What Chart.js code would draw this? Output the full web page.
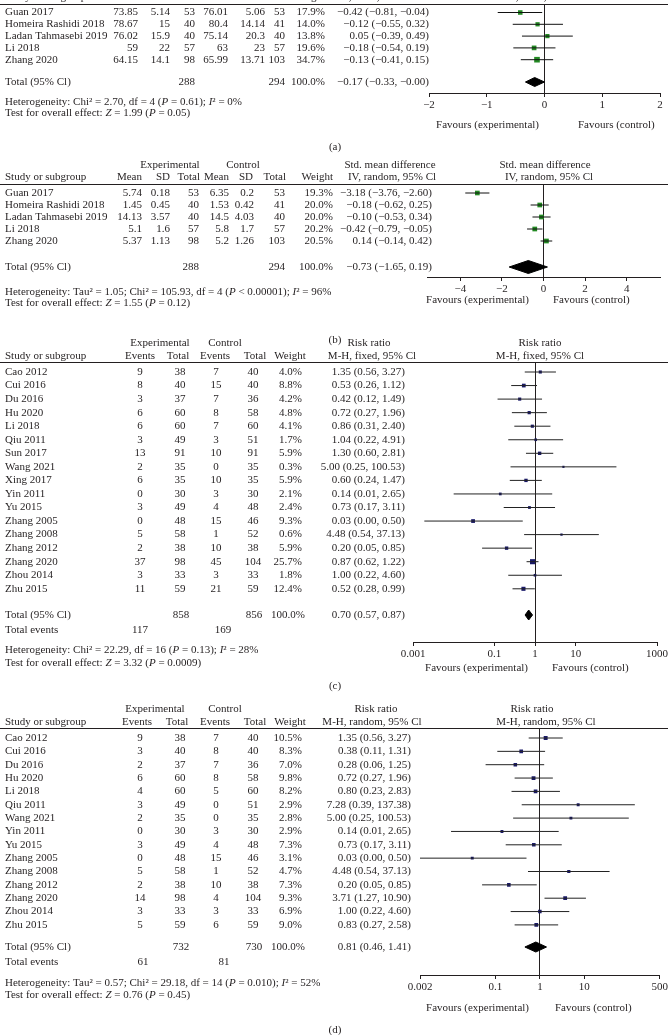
<!DOCTYPE html>
<html>
<head>
<meta charset="utf-8">
<script src="https://cdn.jsdelivr.net/npm/chart.js@4.4.0/dist/chart.umd.min.js"></script>
<style>
  body { margin: 0; background: #fff; }
  #wrap { position: relative; width: 670px; height: 1035px; overflow: hidden; background: #fff; }
  canvas { position: absolute; left: 0; top: 0; }
</style>
</head>
<body>
<div id="wrap">
  <canvas id="pa" width="670" height="1035"></canvas>
  <canvas id="pb" width="670" height="1035"></canvas>
  <canvas id="pc" width="670" height="1035"></canvas>
  <canvas id="pd" width="670" height="1035"></canvas>
</div>
<script>
// ---------- (a) std. mean difference, fixed
const studiesA = ['Guan 2017', 'Homeira Rashidi 2018', 'Ladan Tahmasebi 2019', 'Li 2018', 'Zhang 2020']
const expMeanA = [73.85, 78.67, 76.02, 59, 64.15]
const expSdA = [5.14, 15, 15.9, 22, 14.1]
const expNA = [53, 40, 40, 57, 98]
const ctlMeanA = [76.01, 80.4, 75.14, 63, 65.99]
const ctlSdA = [5.06, 14.14, 20.3, 23, 13.71]
const ctlNA = [53, 41, 40, 57, 103]
const weightA = [17.9, 14.0, 13.8, 19.6, 34.7]
const smdA = [-0.42, -0.12, 0.05, -0.18, -0.13]
const loA = [-0.81, -0.55, -0.39, -0.54, -0.41]
const hiA = [-0.04, 0.32, 0.49, 0.19, 0.15]
const totalA = [-0.17, -0.33, -0]
const ticksA = [-2, -1, 0, 1, 2]
const tickLabelsA = ['−2', '−1', '0', '1', '2']

// ---------- (b) std. mean difference, random
const studiesB = ['Guan 2017', 'Homeira Rashidi 2018', 'Ladan Tahmasebi 2019', 'Li 2018', 'Zhang 2020']
const expMeanB = [5.74, 1.45, 14.13, 5.1, 5.37]
const expSdB = [0.18, 0.45, 3.57, 1.6, 1.13]
const expNB = [53, 40, 40, 57, 98]
const ctlMeanB = [6.35, 1.53, 14.5, 5.8, 5.2]
const ctlSdB = [0.2, 0.42, 4.03, 1.7, 1.26]
const ctlNB = [53, 41, 40, 57, 103]
const weightB = [19.3, 20.0, 20.0, 20.2, 20.5]
const smdB = [-3.18, -0.18, -0.10, -0.42, 0.14]
const loB = [-3.76, -0.62, -0.53, -0.79, -0.14]
const hiB = [-2.60, 0.25, 0.34, -0.05, 0.42]
const totalB = [-0.73, -1.65, 0.19]
const ticksB = [-4, -2, 0, 2, 4]
const tickLabelsB = ['−4', '−2', '0', '2', '4']

// ---------- (c) risk ratio, fixed
const studiesC = ['Cao 2012', 'Cui 2016', 'Du 2016', 'Hu 2020', 'Li 2018', 'Qiu 2011', 'Sun 2017', 'Wang 2021', 'Xing 2017',
  'Yin 2011', 'Yu 2015', 'Zhang 2005', 'Zhang 2008', 'Zhang 2012', 'Zhang 2020', 'Zhou 2014', 'Zhu 2015']
const expEvC = [9, 8, 3, 6, 6, 3, 13, 2, 6, 0, 3, 0, 5, 2, 37, 3, 11]
const expNC = [38, 40, 37, 60, 60, 49, 91, 35, 35, 30, 49, 48, 58, 38, 98, 33, 59]
const ctlEvC = [7, 15, 7, 8, 7, 3, 10, 0, 10, 3, 4, 15, 1, 10, 45, 3, 21]
const ctlNC = [40, 40, 36, 58, 60, 51, 91, 35, 35, 30, 48, 46, 52, 38, 104, 33, 59]
const weightC = [4.0, 8.8, 4.2, 4.8, 4.1, 1.7, 5.9, 0.3, 5.9, 2.1, 2.4, 9.3, 0.6, 5.9, 25.7, 1.8, 12.4]
const rrC = [1.35, 0.53, 0.42, 0.72, 0.86, 1.04, 1.30, 5.00, 0.60, 0.14, 0.73, 0.03, 4.48, 0.20, 0.87, 1.00, 0.52]
const loC = [0.56, 0.26, 0.12, 0.27, 0.31, 0.22, 0.60, 0.25, 0.24, 0.01, 0.17, 0.0019, 0.54, 0.05, 0.62, 0.22, 0.28]
const hiC = [3.27, 1.12, 1.49, 1.96, 2.40, 4.91, 2.81, 100.53, 1.47, 2.65, 3.11, 0.50, 37.13, 0.85, 1.22, 4.60, 0.99]
const totalC = [0.70, 0.57, 0.87]
const ticksC = [0.001, 0.1, 1, 10, 1000]
const tickLabelsC = ['0.001', '0.1', '1', '10', '1000']

// ---------- (d) risk ratio, random
const studiesD = ['Cao 2012', 'Cui 2016', 'Du 2016', 'Hu 2020', 'Li 2018', 'Qiu 2011', 'Wang 2021', 'Yin 2011', 'Yu 2015',
  'Zhang 2005', 'Zhang 2008', 'Zhang 2012', 'Zhang 2020', 'Zhou 2014', 'Zhu 2015']
const expEvD = [9, 3, 2, 6, 4, 3, 2, 0, 3, 0, 5, 2, 14, 3, 5]
const expND = [38, 40, 37, 60, 60, 49, 35, 30, 49, 48, 58, 38, 98, 33, 59]
const ctlEvD = [7, 8, 7, 8, 5, 0, 0, 3, 4, 15, 1, 10, 4, 3, 6]
const ctlND = [40, 40, 36, 58, 60, 51, 35, 30, 48, 46, 52, 38, 104, 33, 59]
const weightD = [10.5, 8.3, 7.0, 9.8, 8.2, 2.9, 2.8, 2.9, 7.3, 3.1, 4.7, 7.3, 9.3, 6.9, 9.0]
const rrD = [1.35, 0.38, 0.28, 0.72, 0.80, 7.28, 5.00, 0.14, 0.73, 0.03, 4.48, 0.20, 3.71, 1.00, 0.83]
const loD = [0.56, 0.11, 0.06, 0.27, 0.23, 0.39, 0.25, 0.01, 0.17, 0.0019, 0.54, 0.05, 1.27, 0.22, 0.27]
const hiD = [3.27, 1.31, 1.25, 1.96, 2.83, 137.38, 100.53, 2.65, 3.11, 0.50, 37.13, 0.85, 10.90, 4.60, 2.58]
const totalD = [0.81, 0.46, 1.41]
const ticksD = [0.002, 0.1, 1, 10, 500]
const tickLabelsD = ['0.002', '0.1', '1', '10', '500']

const INK = '#231f20'
const SERIF = '"Liberation Serif", "DejaVu Serif", serif'
const FS = 11

function fmt(v) { return (v < 0 || Object.is(v, -0) ? '−' : '') + Math.abs(v).toFixed(2) }
function ci(e, l, h) { return fmt(e) + ' (' + fmt(l) + ', ' + fmt(h) + ')' }
function pct(w) { return w.toFixed(1) + '%' }
function sum(a) { return a.reduce((s, v) => s + v, 0) }
function str(a) { return a.map(v => String(v)) }

// text with *italic* parts
function rich(ctx, s, x, y) {
    ctx.textAlign = 'left'
    s.split('*').forEach((part, k) => {
        ctx.font = (k % 2 ? 'italic ' : '') + FS + 'px ' + SERIF
        ctx.fillText(part, x, y)
        x += ctx.measureText(part).width
    })
    ctx.font = FS + 'px ' + SERIF
}

function tableFor(p) {
    return {
        id: 'table',
        afterDraw(chart) {
            const ctx = chart.ctx
            const ys = chart.scales.y
            ctx.save()
            ctx.fillStyle = INK
            ctx.font = FS + 'px ' + SERIF
            ctx.textBaseline = 'middle'
            const put = (s, x, y, a) => { ctx.textAlign = a; ctx.fillText(s, x, y) }

            // headers
            p.head.forEach(h => put(h[0], h[1], h[3], h[2]))
            // rule under header
            ctx.strokeStyle = INK
            ctx.lineWidth = 1
            ctx.beginPath()
            ctx.moveTo(0, p.lineY + 0.5)
            ctx.lineTo(668, p.lineY + 0.5)
            ctx.stroke()

            // study rows
            p.names.forEach((nm, i) => {
                const y = ys.getPixelForValue(i)
                p.cols.forEach(c => put(c[2][i], c[0], y, c[1]))
            })
            // total row
            const ty = ys.getPixelForValue((p.totalY - p.row0Y) / p.rowStep)
            p.totalRow.forEach(t => put(t[0], t[1], ty, t[2]))
            if (p.events) p.events.items.forEach(t => put(t[0], t[1], p.events.y, t[2]))

            p.notes.forEach(n => rich(ctx, n[0], 5, n[1]))

            put('Favours (experimental)', p.favours[0], p.favours[2], 'right')
            put('Favours (control)', p.favours[1], p.favours[2], 'left')
            put(p.label[0], 335, p.label[1], 'center')
            ctx.restore()
        }
    }
}

function forest(id, p) {
    const W = 670, H = 1035, AX = 24
    const n = p.names.length
    const ymin = (p.lineY - p.row0Y) / p.rowStep
    const ymax = (p.axisY - p.row0Y) / p.rowStep
    const tRow = (p.totalY - p.row0Y) / p.rowStep
    const dh = p.dHalf / p.rowStep
    const te = p.total[0], tl = p.total[1], th = p.total[2]

    const datasets = []
    for (let i = 0; i < n; i++) {
        datasets.push({
            data: [{ x: p.lo[i], y: i }, { x: p.hi[i], y: i }],
            showLine: true, borderColor: p.ciColor, borderWidth: 1, pointRadius: 0
        })
    }
    // squares sized by weight
    datasets.push({
        data: p.est.map((e, i) => ({ x: e, y: i })),
        pointStyle: 'rect',
        pointRadius: p.weight.map(w => (1.8 + 0.65 * Math.sqrt(w)) / 1.414),
        pointBackgroundColor: p.sqColor, pointBorderWidth: 0
    })
    // pooled diamond
    datasets.push({
        data: [{ x: tl, y: tRow }, { x: te, y: tRow - dh }, { x: th, y: tRow }, { x: te, y: tRow + dh }, { x: tl, y: tRow }],
        showLine: true, fill: 'shape', backgroundColor: '#000', borderColor: '#000', borderWidth: 1, pointRadius: 0
    })

    return new Chart(document.getElementById(id), {
        type: 'scatter',
        data: { datasets: datasets },
        options: {
            responsive: false,
            animation: false,
            layout: { autoPadding: false, padding: { left: p.plotL, right: W - p.plotR, top: p.lineY, bottom: H - p.axisY - AX } },
            plugins: { legend: { display: false }, tooltip: { enabled: false } },
            scales: {
                x: {
                    type: p.log ? 'logarithmic' : 'linear',
                    min: p.xMin, max: p.xMax,
                    afterBuildTicks: s => { s.ticks = p.ticks.map(v => ({ value: v })) },
                    afterFit: s => { s.height = AX },
                    border: { display: true, color: INK, width: 1 },
                    grid: {
                        color: c => (c.tick && c.tick.value === p.ref) ? INK : 'rgba(0,0,0,0)',
                        tickColor: INK, tickLength: 4, lineWidth: 1
                    },
                    ticks: {
                        color: INK, padding: 2, autoSkip: false, maxRotation: 0,
                        font: { family: SERIF, size: FS },
                        callback: (v, i) => p.tickLabels[i]
                    }
                },
                y: { display: false, reverse: true, min: ymin, max: ymax }
            }
        },
        plugins: [tableFor(p)]
    })
}

// ---------- panel (a)
forest('pa', {
    names: studiesA, est: smdA, lo: loA, hi: hiA, weight: weightA, total: totalA,
    xMin: -2, xMax: 2, ref: 0, ticks: ticksA, tickLabels: tickLabelsA,
    sqColor: '#238a23', ciColor: '#111', dHalf: 4.5,
    lineY: 4, axisY: 93, plotL: 429, plotR: 660, row0Y: 12.5, rowStep: 11.8, totalY: 82,
    head: [
        ['Study or subgroup', 5, 'left', -3], ['Mean', 138, 'right', -3], ['SD', 170, 'right', -3], ['Total', 195, 'right', -3],
        ['Mean', 228, 'right', -3], ['SD', 265, 'right', -3], ['Total', 285, 'right', -3], ['Weight', 325, 'right', -3],
        ['IV, fixed, 95% Cl', 377, 'center', -3], ['IV, fixed, 95% Cl', 544, 'center', -3]
    ],
    cols: [
        [5, 'left', studiesA], [138, 'right', str(expMeanA)], [170, 'right', str(expSdA)], [195, 'right', str(expNA)],
        [228, 'right', str(ctlMeanA)], [265, 'right', str(ctlSdA)], [285, 'right', str(ctlNA)],
        [325, 'right', weightA.map(pct)], [429, 'right', smdA.map((e, i) => ci(e, loA[i], hiA[i]))]
    ],
    totalRow: [['Total (95% Cl)', 5, 'left'], [String(sum(expNA)), 195, 'right'], [String(sum(ctlNA)), 285, 'right'],
        ['100.0%', 325, 'right'], [ci(totalA[0], totalA[1], totalA[2]), 429, 'right']],
    notes: [['Heterogeneity: Chi² = 2.70, df = 4 (*P* = 0.61); *I*² = 0%', 102], ['Test for overall effect: *Z* = 1.99 (*P* = 0.05)', 113]],
    favours: [539, 578, 125],
    label: ['(a)', 147]
})

// ---------- panel (b)
forest('pb', {
    names: studiesB, est: smdB, lo: loB, hi: hiB, weight: weightB, total: totalB,
    xMin: -5.6, xMax: 5.6, ref: 0, ticks: ticksB, tickLabels: tickLabelsB,
    sqColor: '#238a23', ciColor: '#111', dHalf: 6.5,
    lineY: 184, axisY: 277, plotL: 427, plotR: 660, row0Y: 193, rowStep: 12, totalY: 267,
    head: [
        ['Experimental', 170, 'center', 165], ['Control', 243, 'center', 165],
        ['Std. mean difference', 390, 'center', 165], ['Std. mean difference', 545, 'center', 165],
        ['Study or subgroup', 5, 'left', 177], ['Mean', 142, 'right', 177], ['SD', 170, 'right', 177], ['Total', 200, 'right', 177],
        ['Mean', 229, 'right', 177], ['SD', 253, 'right', 177], ['Total', 286, 'right', 177], ['Weight', 333, 'right', 177],
        ['IV, random, 95% Cl', 392, 'center', 177], ['IV, random, 95% Cl', 549, 'center', 177]
    ],
    cols: [
        [5, 'left', studiesB], [142, 'right', str(expMeanB)], [170, 'right', str(expSdB)], [199, 'right', str(expNB)],
        [229, 'right', str(ctlMeanB)], [254, 'right', str(ctlSdB)], [285, 'right', str(ctlNB)],
        [333, 'right', weightB.map(pct)], [432, 'right', smdB.map((e, i) => ci(e, loB[i], hiB[i]))]
    ],
    totalRow: [['Total (95% Cl)', 5, 'left'], [String(sum(expNB)), 199, 'right'], [String(sum(ctlNB)), 285, 'right'],
        ['100.0%', 333, 'right'], [ci(totalB[0], totalB[1], totalB[2]), 432, 'right']],
    notes: [['Heterogeneity: Tau² = 1.05; Chi² = 105.93, df = 4 (*P* < 0.00001); *I*² = 96%', 292], ['Test for overall effect: *Z* = 1.55 (*P* = 0.12)', 303]],
    favours: [529, 553, 300],
    label: ['(b)', 340]
})

// ---------- panel (c)
forest('pc', {
    names: studiesC, est: rrC, lo: loC, hi: hiC, weight: weightC, total: totalC,
    log: true, xMin: 0.001, xMax: 1000, ref: 1, ticks: ticksC, tickLabels: tickLabelsC,
    sqColor: '#1a1a6a', ciColor: '#222', dHalf: 5,
    lineY: 362, axisY: 642, plotL: 413, plotR: 660, row0Y: 372, rowStep: 13.55, totalY: 615,
    head: [
        ['Experimental', 160, 'center', 343], ['Control', 225, 'center', 343],
        ['Risk ratio', 369, 'center', 343], ['Risk ratio', 540, 'center', 343],
        ['Study or subgroup', 5, 'left', 356], ['Events', 140, 'center', 356], ['Total', 178, 'center', 356],
        ['Events', 215, 'center', 356], ['Total', 255, 'center', 356], ['Weight', 290, 'center', 356],
        ['M-H, fixed, 95% Cl', 372, 'center', 356], ['M-H, fixed, 95% Cl', 540, 'center', 356]
    ],
    cols: [
        [5, 'left', studiesC], [140, 'center', str(expEvC)], [180, 'center', str(expNC)],
        [216, 'center', str(ctlEvC)], [253, 'center', str(ctlNC)],
        [302, 'right', weightC.map(pct)], [405, 'right', rrC.map((e, i) => ci(e, loC[i], hiC[i]))]
    ],
    totalRow: [['Total (95% Cl)', 5, 'left'], [String(sum(expNC)), 181, 'center'], [String(sum(ctlNC)), 254, 'center'],
        ['100.0%', 305, 'right'], [ci(totalC[0], totalC[1], totalC[2]), 405, 'right']],
    events: { y: 630, items: [['Total events', 5, 'left'], [String(sum(expEvC)), 140, 'center'], [String(sum(ctlEvC)), 223, 'center']] },
    notes: [['Heterogeneity: Chi² = 22.29, df = 16 (*P* = 0.13); *I*² = 28%', 650], ['Test for overall effect: *Z* = 3.32 (*P* = 0.0009)', 663]],
    favours: [528, 552, 668],
    label: ['(c)', 686]
})

// ---------- panel (d)
forest('pd', {
    names: studiesD, est: rrD, lo: loD, hi: hiD, weight: weightD, total: totalD,
    log: true, xMin: 0.002, xMax: 500, ref: 1, ticks: ticksD, tickLabels: tickLabelsD,
    sqColor: '#1a1a6a', ciColor: '#222', dHalf: 5,
    lineY: 728, axisY: 975, plotL: 420, plotR: 661, row0Y: 738, rowStep: 13.35, totalY: 947,
    head: [
        ['Experimental', 155, 'center', 709], ['Control', 225, 'center', 709],
        ['Risk ratio', 376, 'center', 709], ['Risk ratio', 532, 'center', 709],
        ['Study or subgroup', 5, 'left', 722], ['Events', 137, 'center', 722], ['Total', 177, 'center', 722],
        ['Events', 215, 'center', 722], ['Total', 255, 'center', 722], ['Weight', 290, 'center', 722],
        ['M-H, random, 95% Cl', 372, 'center', 722], ['M-H, random, 95% Cl', 546, 'center', 722]
    ],
    cols: [
        [5, 'left', studiesD], [140, 'center', str(expEvD)], [180, 'center', str(expND)],
        [216, 'center', str(ctlEvD)], [253, 'center', str(ctlND)],
        [302, 'right', weightD.map(pct)], [411, 'right', rrD.map((e, i) => ci(e, loD[i], hiD[i]))]
    ],
    totalRow: [['Total (95% Cl)', 5, 'left'], [String(sum(expND)), 181, 'center'], [String(sum(ctlND)), 254, 'center'],
        ['100.0%', 305, 'right'], [ci(totalD[0], totalD[1], totalD[2]), 411, 'right']],
    events: { y: 962, items: [['Total events', 5, 'left'], [String(sum(expEvD)), 143, 'center'], [String(sum(ctlEvD)), 224, 'center']] },
    notes: [['Heterogeneity: Tau² = 0.57; Chi² = 29.18, df = 14 (*P* = 0.010); *I*² = 52%', 983], ['Test for overall effect: *Z* = 0.76 (*P* = 0.45)', 995]],
    favours: [529, 555, 1008],
    label: ['(d)', 1030]
})
</script>
</body>
</html>
